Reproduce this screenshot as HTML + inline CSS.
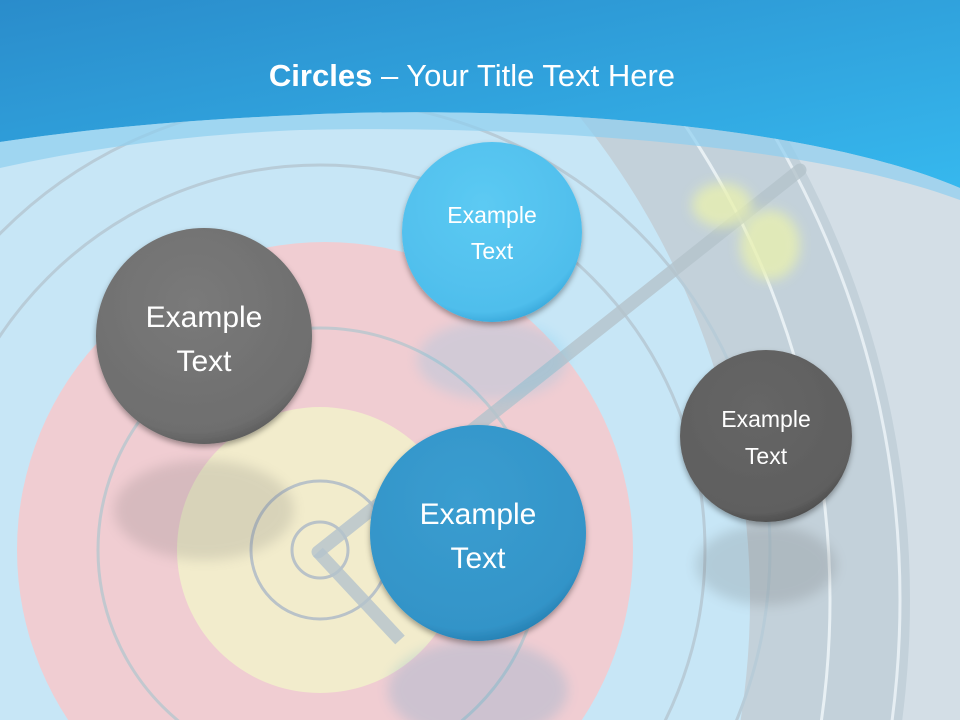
<!DOCTYPE html>
<html><head><meta charset="utf-8"><style>
html,body{margin:0;padding:0;width:960px;height:720px;overflow:hidden}
svg{display:block}
text{font-family:"Liberation Sans",sans-serif;fill:#fff}
</style></head><body>
<svg width="960" height="720" viewBox="0 0 960 720" xmlns="http://www.w3.org/2000/svg">
<defs>
<linearGradient id="hdr" x1="0" y1="0" x2="1" y2="1">
<stop offset="0" stop-color="#2a8ccb"/><stop offset="1" stop-color="#36b8ee"/></linearGradient>
<radialGradient id="gG" cx="0.45" cy="0.35" r="0.7"><stop offset="0" stop-color="#7a7a7a"/><stop offset="0.85" stop-color="#6e6e6e"/><stop offset="1" stop-color="#555"/></radialGradient>
<radialGradient id="gG2" cx="0.45" cy="0.35" r="0.7"><stop offset="0" stop-color="#666"/><stop offset="0.85" stop-color="#5f5f5f"/><stop offset="1" stop-color="#444"/></radialGradient>
<radialGradient id="bL" cx="0.45" cy="0.35" r="0.7"><stop offset="0" stop-color="#5ccaf3"/><stop offset="0.85" stop-color="#4fbeec"/><stop offset="1" stop-color="#2e9ed3"/></radialGradient>
<radialGradient id="bM" cx="0.45" cy="0.35" r="0.7"><stop offset="0" stop-color="#3a9dd0"/><stop offset="0.85" stop-color="#3394c8"/><stop offset="1" stop-color="#1f76a8"/></radialGradient>
<filter id="sh" x="-20%" y="-20%" width="140%" height="140%"><feDropShadow dx="0" dy="3" stdDeviation="3" flood-color="#000" flood-opacity="0.35"/></filter>
<filter id="bl"><feGaussianBlur stdDeviation="6"/></filter>
</defs>
<rect width="960" height="720" fill="#d3dee6"/>
<circle cx="-20" cy="600" r="930" fill="#c3d1da"/>
<circle cx="-20" cy="600" r="920" fill="none" stroke="#e6eef3" stroke-width="3"/>
<circle cx="-20" cy="600" r="850" fill="none" stroke="#e8f0f4" stroke-width="3"/>
<circle cx="-20" cy="600" r="770" fill="#c7e6f6"/>
<circle cx="320" cy="550" r="450" fill="none" stroke="#b8ccd8" stroke-width="3"/>
<circle cx="320" cy="550" r="385" fill="none" stroke="#b8ccd8" stroke-width="3"/>
<circle cx="325" cy="550" r="308" fill="#f0cdd2"/>
<circle cx="320" cy="550" r="222" fill="none" stroke="#c2c8cf" stroke-width="3"/>
<circle cx="320" cy="550" r="143" fill="#f2eccc"/>
<circle cx="320" cy="550" r="69" fill="none" stroke="#b9c2c8" stroke-width="3"/>
<circle cx="320" cy="550" r="28" fill="none" stroke="#b9c2c8" stroke-width="3"/>
<line x1="318" y1="552" x2="800" y2="170" stroke="#b5c4cc" stroke-width="13" stroke-linecap="round" opacity="0.8"/>
<line x1="318" y1="552" x2="400" y2="640" stroke="#b5c4cc" stroke-width="13" opacity="0.8"/>
<g filter="url(#bl)" opacity="0.8"><ellipse cx="722" cy="205" rx="30" ry="22" fill="#e8f0b0"/><ellipse cx="770" cy="245" rx="30" ry="35" fill="#e8f0b0"/></g>
<path d="M0 0H960V188C800 120 500 105 300 115C180 120 80 130 0 142Z" fill="url(#hdr)"/>
<path d="M0 142C80 130 180 120 300 115C500 105 800 120 960 188V200C800 140 500 125 300 130C180 135 80 150 0 168Z" fill="#8fcff0" opacity="0.7"/>
<text x="472" y="86" font-size="31" text-anchor="middle"><tspan font-weight="bold">Circles</tspan> – Your Title Text Here</text>
<g opacity="0.18" filter="url(#bl)">
<ellipse cx="204" cy="510" rx="90" ry="50" fill="#666"/>
<ellipse cx="492" cy="360" rx="75" ry="40" fill="#4fbeec"/>
<ellipse cx="478" cy="690" rx="90" ry="50" fill="#3394c8"/>
<ellipse cx="766" cy="565" rx="70" ry="40" fill="#555"/>
</g>
<g filter="url(#sh)">
<circle cx="204" cy="336" r="108" fill="url(#gG)"/>
<circle cx="492" cy="232" r="90" fill="url(#bL)"/>
<circle cx="478" cy="533" r="108" fill="url(#bM)"/>
<circle cx="766" cy="436" r="86" fill="url(#gG2)"/>
</g>
<text x="204" y="327" font-size="30" text-anchor="middle">Example</text>
<text x="204" y="371" font-size="30" text-anchor="middle">Text</text>
<text x="492" y="223" font-size="23" text-anchor="middle">Example</text>
<text x="492" y="259" font-size="23" text-anchor="middle">Text</text>
<text x="478" y="524" font-size="30" text-anchor="middle">Example</text>
<text x="478" y="568" font-size="30" text-anchor="middle">Text</text>
<text x="766" y="427" font-size="23" text-anchor="middle">Example</text>
<text x="766" y="464" font-size="23" text-anchor="middle">Text</text>
</svg>
</body></html>
